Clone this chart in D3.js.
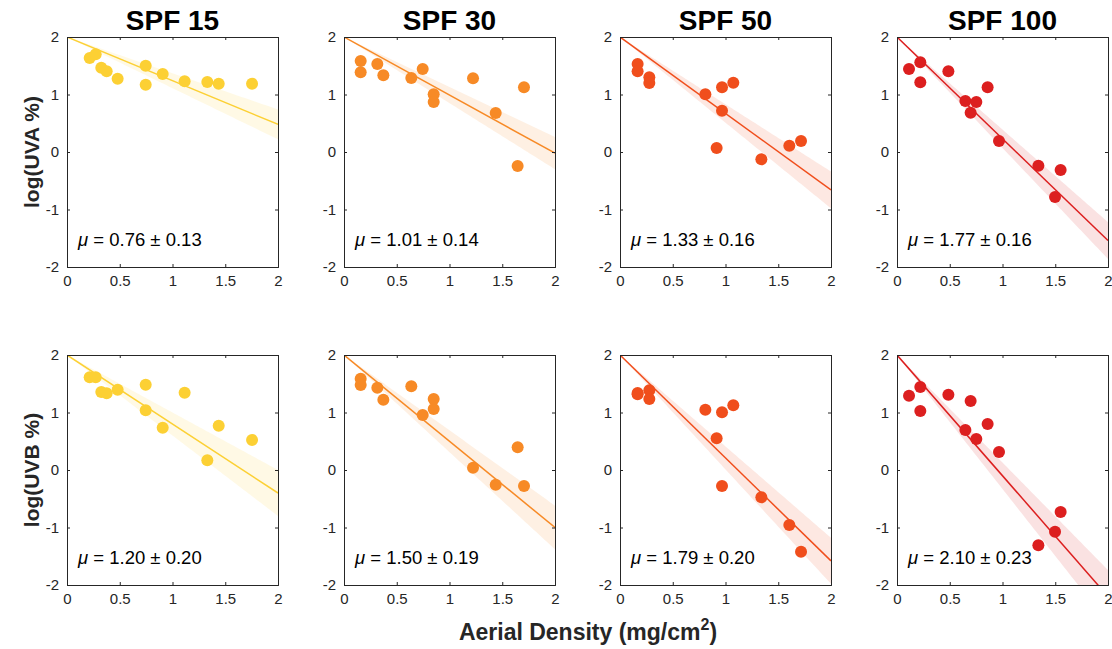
<!DOCTYPE html>
<html>
<head>
<meta charset="utf-8">
<script src="https://cdn.jsdelivr.net/npm/d3@7"></script>
<style>
  body { margin: 0; background: #fff; }
  svg { display: block; font-family: "Liberation Sans", Arial, sans-serif; }
</style>
</head>
<body>
<svg id="chart" width="1112" height="649"></svg>
<script>
// SPF groups and their colours
const spfLabels = ["SPF 15", "SPF 30", "SPF 50", "SPF 100"];
const spfColors = ["#FCD034", "#F78A26", "#F04E1C", "#DC1F1F"];

// Aerial density (mg/cm²) per sample, shared by UVA and UVB for each SPF
const densitySpf15 = [0.215, 0.272, 0.325, 0.376, 0.48, 0.746, 0.746, 0.907, 1.115, 1.33, 1.438, 1.754];
const densitySpf30 = [0.158, 0.158, 0.316, 0.373, 0.638, 0.746, 0.85, 0.85, 1.223, 1.438, 1.646, 1.706];
const densitySpf50 = [0.167, 0.167, 0.278, 0.278, 0.809, 0.967, 0.967, 0.916, 1.074, 1.34, 1.605, 1.716];
const densitySpf100 = [0.114, 0.221, 0.221, 0.487, 0.648, 0.752, 0.698, 0.859, 0.967, 1.34, 1.551, 1.498];

// log(UVA %) transmission
const uvaSpf15 = [1.635, 1.70, 1.467, 1.403, 1.275, 1.50, 1.171, 1.357, 1.229, 1.217, 1.188, 1.188];
const uvaSpf30 = [1.583, 1.386, 1.53, 1.333, 1.287, 1.443, 1.003, 0.87, 1.281, 0.678, -0.243, 1.125];
const uvaSpf50 = [1.53, 1.403, 1.299, 1.2, 1.003, 1.125, 0.719, 0.07, 1.206, -0.128, 0.11, 0.191];
const uvaSpf100 = [1.443, 1.559, 1.212, 1.403, 0.887, 0.87, 0.684, 1.125, 0.191, -0.238, -0.313, -0.783];

// log(UVB %) transmission
const uvbSpf15 = [1.612, 1.612, 1.357, 1.333, 1.397, 1.484, 1.038, 0.736, 1.345, 0.168, 0.771, 0.522];
const uvbSpf30 = [1.588, 1.478, 1.432, 1.223, 1.455, 0.957, 1.235, 1.061, 0.041, -0.255, 0.394, -0.278];
const uvbSpf50 = [1.339, 1.316, 1.386, 1.235, 1.049, 1.003, -0.278, 0.551, 1.125, -0.475, -0.957, -1.42];
const uvbSpf100 = [1.293, 1.443, 1.026, 1.31, 0.696, 0.539, 1.2, 0.8, 0.313, -1.31, -0.73, -1.072];

// Attenuation coefficient μ ± uncertainty (fit: log T = 2 − μ·d)
const muUva = [0.76, 1.01, 1.33, 1.77];
const errUva = [0.13, 0.14, 0.16, 0.16];
const muUvb = [1.20, 1.50, 1.79, 2.10];
const errUvb = [0.20, 0.19, 0.20, 0.23];

// Axis ticks
const xTicks = [0, 0.5, 1, 1.5, 2];
const xTickLabels = ["0", "0.5", "1", "1.5", "2"];
const yTicks = [-2, -1, 0, 1, 2];
const yTickLabels = ["-2", "-1", "0", "1", "2"];

const rowLabels = ["log(UVA %)", "log(UVB %)"];
const xAxisTitle = "Aerial Density (mg/cm";

const densities = [densitySpf15, densitySpf30, densitySpf50, densitySpf100];
const rows = [
  { values: [uvaSpf15, uvaSpf30, uvaSpf50, uvaSpf100], mu: muUva, err: errUva },
  { values: [uvbSpf15, uvbSpf30, uvbSpf50, uvbSpf100], mu: muUvb, err: errUvb }
];

const svg = d3.select("#chart");
const colLeft = [67, 344, 620, 897];
const panelW = 211;
const rowTop = [37, 355];
const panelH = 230;
const textColor = "#262626";
const axisColor = "#262626";

const x = d3.scaleLinear().domain([0, 2]).range([0, panelW]);
const y = d3.scaleLinear().domain([-2, 2]).range([panelH, 0]);

const defs = svg.append("defs");
defs.append("clipPath").attr("id", "panelClip")
  .append("rect").attr("x", 0).attr("y", 0).attr("width", panelW).attr("height", panelH);

rows.forEach((row, ri) => {
  spfLabels.forEach((label, ci) => {
    const g = svg.append("g").attr("transform", `translate(${colLeft[ci]},${rowTop[ri]})`);
    const color = spfColors[ci];
    const mu = row.mu[ci], err = row.err[ci];

    // Uncertainty band and fit line
    const xs = d3.range(0, 2.0001, 0.02);
    const plot = g.append("g").attr("clip-path", "url(#panelClip)");
    plot.append("path")
      .datum(xs)
      .attr("d", d3.area()
        .x(d => x(d))
        .y0(d => y(2 - (mu - err) * d))
        .y1(d => y(2 - (mu + err) * d)))
      .attr("fill", color).attr("fill-opacity", 0.13);
    plot.append("path")
      .datum([0, 2])
      .attr("d", d3.line().x(d => x(d)).y(d => y(2 - mu * d)))
      .attr("stroke", color).attr("stroke-width", 1.5).attr("fill", "none");

    // Measurements
    const pts = densities[ci].map((d, i) => ({ d, v: row.values[ci][i] }));
    plot.selectAll("circle").data(pts).join("circle")
      .attr("cx", p => x(p.d)).attr("cy", p => y(p.v))
      .attr("r", 6).attr("fill", color);

    // Axes (inward ticks on all sides, boxed)
    const bottom = d3.axisBottom(x).tickValues(xTicks).tickSize(-3)
      .tickFormat((d, i) => xTickLabels[i]).tickPadding(8);
    const top = d3.axisTop(x).tickValues(xTicks).tickSize(-3).tickFormat("");
    const left = d3.axisLeft(y).tickValues(yTicks).tickSize(-3)
      .tickFormat((d, i) => yTickLabels[i]).tickPadding(8);
    const right = d3.axisRight(y).tickValues(yTicks).tickSize(-3).tickFormat("");

    const styleAxis = sel => {
      sel.selectAll("path.domain").attr("stroke", axisColor).attr("stroke-width", 1);
      sel.selectAll(".tick line").attr("stroke", axisColor);
      sel.selectAll("text").attr("fill", textColor).style("font-size", "15px")
        .style("font-family", '"Liberation Sans", Arial, sans-serif');
    };
    g.append("g").attr("transform", `translate(0,${panelH})`).call(bottom).call(styleAxis);
    g.append("g").call(top).call(styleAxis);
    g.append("g").call(left).call(styleAxis);
    g.append("g").attr("transform", `translate(${panelW},0)`).call(right).call(styleAxis);

    // μ annotation
    const t = g.append("text")
      .attr("x", 11).attr("y", 209)
      .attr("fill", "#000").style("font-size", "18.5px");
    t.append("tspan").attr("font-style", "italic").text("μ");
    t.append("tspan").text(` = ${mu.toFixed(2)} ± ${err.toFixed(2)}`);

    // Column titles
    if (ri === 0) {
      svg.append("text")
        .attr("x", colLeft[ci] + panelW / 2).attr("y", 30)
        .attr("text-anchor", "middle")
        .attr("font-weight", "bold").style("font-size", "28px").attr("fill", "#000")
        .text(label);
    }
  });

  // Row labels
  svg.append("text")
    .attr("transform", `translate(39,${rowTop[ri] + panelH / 2}) rotate(-90)`)
    .attr("text-anchor", "middle")
    .attr("font-weight", "bold").style("font-size", "21px").attr("fill", textColor)
    .text(rowLabels[ri]);
});

// Shared x-axis title
const xt = svg.append("text")
  .attr("x", 588).attr("y", 640)
  .attr("text-anchor", "middle")
  .attr("font-weight", "bold").style("font-size", "23px").attr("fill", textColor);
xt.append("tspan").text(xAxisTitle);
xt.append("tspan").attr("dy", -10).style("font-size", "16px").text("2");
xt.append("tspan").attr("dy", 10).text(")");
</script>
</body>
</html>
